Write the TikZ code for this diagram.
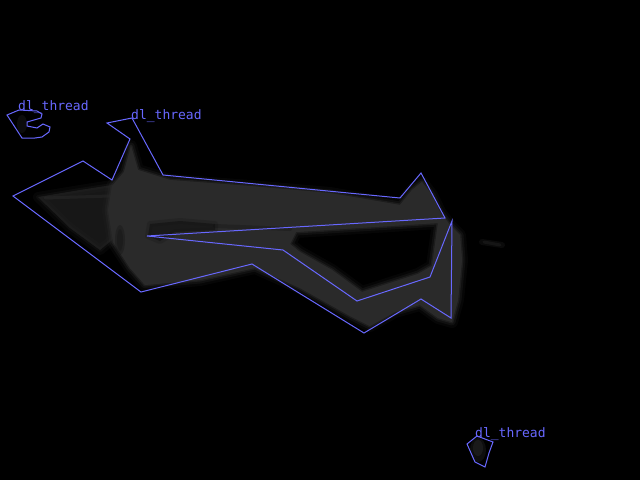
\documentclass[tikz,border=0pt]{standalone}
\usepackage{fontspec}
\newfontfamily\lblfont{DejaVu Sans Mono}
\definecolor{bluel}{RGB}{104,104,255}
\definecolor{greyc}{RGB}{42,42,42}
\definecolor{darkc}{RGB}{16,16,16}
\tikzset{
  outline/.style={draw=bluel, line width=1pt, line join=miter},
  lbl/.style={text=bluel, font=\lblfont\fontsize{13}{13}\selectfont, inner sep=0pt, anchor=base west},
  soft/.style={draw=greyc, fill=greyc, line join=round},
  softdark/.style={draw=darkc, fill=darkc, line join=round}
}
\begin{document}
\begin{tikzpicture}[x=1pt,y=-1pt]
\fill[black] (0,0) rectangle (640,480);
\useasboundingbox (0,0) rectangle (640,480);
% faint wedge on the left
\def\wedge{(38,197) -- (80,190) -- (112,185) -- (118,205) -- (112,240) -- (100,250) -- (70,228) -- cycle}
\path[soft, line width=10pt, opacity=0.15] \wedge;
\path[soft, line width=4pt, opacity=0.2] \wedge;
\fill[greyc, opacity=0.35] \wedge;
\draw[greyc, line width=3pt, opacity=0.5, line cap=round] (45,198) -- (110,196);
% grey blurred region
\def\greyshape{(112,186) -- (124,172) -- (131,146) -- (138,170) -- (170,180) -- (250,186) -- (330,193) -- (400,205) -- (412,190) -- (422,182) -- (432,195) -- (440,212) -- (450,225) -- (460,235) -- (462,260) -- (458,300) -- (452,322) -- (438,318) -- (420,305) -- (395,312) -- (370,326) -- (350,316) -- (300,288) -- (255,268) -- (200,280) -- (145,285) -- (130,268) -- (113,242) -- (108,210) -- cycle
 (296,232) -- (438,223) -- (432,266) -- (418,274) -- (362,292) -- (332,270) -- (300,252) -- (290,244) -- cycle}
\path[soft, even odd rule, line width=12pt, opacity=0.15] \greyshape;
\path[soft, even odd rule, line width=7pt, opacity=0.3] \greyshape;
\path[soft, even odd rule, line width=3pt, opacity=0.5] \greyshape;
\fill[greyc, even odd rule] \greyshape;
% darker hollows
\def\holea{(150,224) -- (180,221) -- (215,224) -- (215,230) -- (175,232) -- (160,241) -- (148,236) -- cycle}
\path[softdark, line width=6pt, opacity=0.2] \holea;
\fill[darkc, opacity=0.45] \holea;
\draw[darkc, line width=4pt, opacity=0.3, line cap=round] (215,226) -- (290,229);
\fill[darkc, opacity=0.3] (120,240) ellipse (5pt and 15pt);
\fill[darkc, opacity=0.3] (120,240) ellipse (3pt and 11pt);
% faint smear on the right
\draw[greyc, line width=6pt, line cap=round, opacity=0.25] (482,242) -- (502,245);
\draw[greyc, line width=3pt, line cap=round, opacity=0.35] (484,242) -- (500,245);
% small blobs
\fill[greyc, opacity=0.35] (478,450) ellipse (8pt and 12pt);
\fill[greyc, opacity=0.45] (478,448) ellipse (5pt and 8pt);
\fill[greyc, opacity=0.3] (22,124) ellipse (5pt and 9pt);
% main outline
\draw[outline] (13,196) -- (83,161) -- (112,180) -- (130,139) -- (107,123) -- (132,118) -- (163,175) -- (400,198) -- (421,173) -- (445,218) -- (147,236) -- (283,250) -- (357,301) -- (430,277) -- (452,221) -- (451,318) -- (421,299) -- (364,333) -- (252,264) -- (141,292) -- cycle;
% small outline top left
\draw[outline] (7,115) -- (19,110) -- (37,111) -- (42,114) -- (41,118) -- (27,122) -- (27,126) -- (37,128) -- (43,124) -- (50,127) -- (49,132) -- (42,137) -- (35,138) -- (22,138) -- cycle;
% small outline bottom right
\draw[outline] (467,444) -- (477,436) -- (493,442) -- (489,453) -- (485,467) -- (475,462) -- cycle;
% labels
\node[lbl] (l1) at (18,110) {dl\_thread};
\node[lbl] (l2) at (131,119) {dl\_thread};
\node[lbl] (l3) at (475,437) {dl\_thread};
\end{tikzpicture}
\end{document}
